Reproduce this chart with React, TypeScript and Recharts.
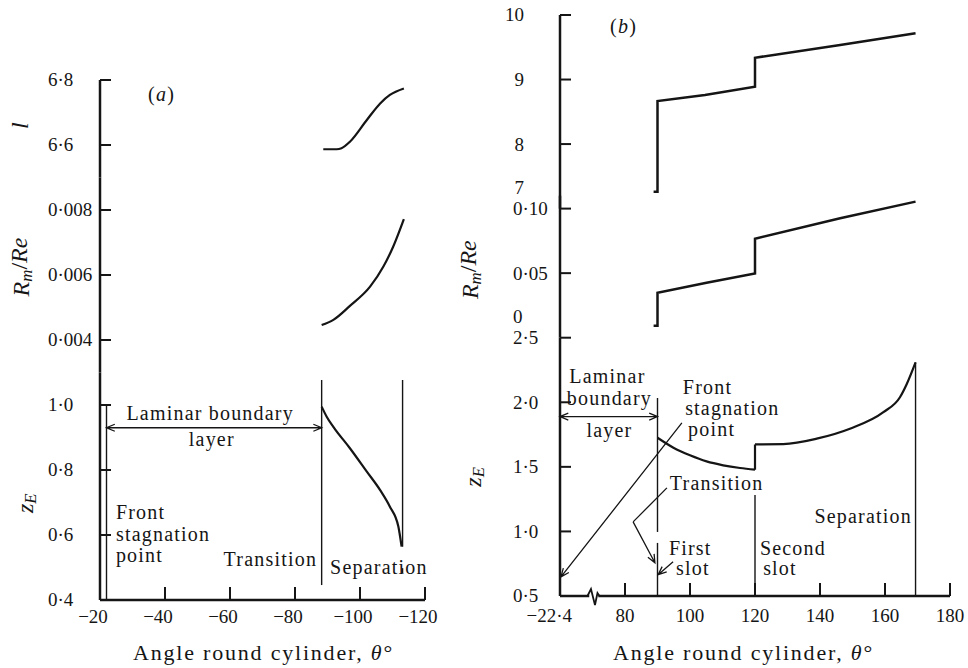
import React from 'react'
import { LineChart, Line, XAxis, YAxis, ReferenceLine, ReferenceDot } from 'recharts'

const W = 968
const H = 668
const INK = '#151515'
const FONT = '"Liberation Serif", "Times New Roman", Times, serif'

// ---------- (a) no suction: angles read negative round the cylinder ----------
const aThetaL = [-88.7, -92.8, -94.3, -96.9, -102.1, -106.2, -109.2, -113.5]
const aL = [6.587, 6.587, 6.59, 6.61, 6.677, 6.728, 6.754, 6.774]
const aThetaRm = [-88.2, -91.8, -96.9, -103.1, -107.2, -110.2, -113.5]
const aRm = [0.00446, 0.00462, 0.00505, 0.00564, 0.00626, 0.00687, 0.00772]
const aThetaZ = [-88.2, -89.75, -91.8, -96.9, -102.1, -106.2, -109.2, -111.8, -112.8]
const aZ = [0.995, 0.964, 0.933, 0.867, 0.795, 0.738, 0.687, 0.626, 0.564]

const aStagnation = -22
const aTransition = -88.2
const aSeparation = -113.1

const aTicksX = [-20, -40, -60, -80, -100, -120]
const aTicksL = [6.6, 6.8]
const aTicksRm = [0.004, 0.006, 0.008]
const aTicksZ = [0.4, 0.6, 0.8, 1.0]

// ---------- (b) two suction slots ----------
const bThetaL = [88.8, 90, 90, 104.6, 120, 120, 146.2, 169.4]
const bL = [7.26, 7.26, 8.667, 8.76, 8.889, 9.338, 9.535, 9.716]
const bThetaRm = [88.8, 90, 90, 105.1, 120, 120, 146.2, 169.4]
const bRm = [0.0092, 0.0092, 0.0348, 0.0426, 0.0498, 0.0767, 0.0925, 0.1054]
const bThetaZ1 = [90, 94.9, 100, 105.1, 110.2, 115.4, 120]
const bZ1 = [1.725, 1.648, 1.589, 1.542, 1.512, 1.491, 1.478]
const bThetaZ2 = [120, 128.7, 139, 149.2, 159.5, 164.6, 166.7, 169.4]
const bZ2 = [1.674, 1.676, 1.718, 1.795, 1.923, 2.039, 2.142, 2.309]

// axis is broken: the front stagnation point (-22.4 deg) sits at its left end
const bAxisStart = 60
const bAxisStartLabel = '−22·4'
const bBreakAt = 70.3
const bFirstSlot = 90
const bSecondSlot = 120
const bSeparation = 169.4

const bTicksX = [60, 80, 100, 120, 140, 160, 180]
const bTicksL = [7, 8, 9, 10]
const bTicksRm = [0, 0.05, 0.1]
const bTicksZ = [0.5, 1.0, 1.5, 2.0, 2.5]

const zip = (xs: number[], ys: number[]) => xs.map((t, i) => ({ t, v: ys[i] }))
const num = (digits: number) => (v: number) =>
  (v < 0 ? '−' : '') + Math.abs(v).toFixed(digits).replace('.', '·')

const textStyle = { fontFamily: FONT, fill: INK }

// y ticks point into the plot; "raised" values only get a label lifted above the band joint
type YTickCfg = { fmt: (v: number) => string; dx: number; anchor: 'start' | 'end'; raised?: number[] }
const yTick = (cfg: YTickCfg) => (p: any) => {
  const v = p.payload.value
  const raised = cfg.raised?.includes(v)
  return (
    <g>
      {!raised && <line x1={p.x} y1={p.y} x2={p.x + 11} y2={p.y} stroke={INK} strokeWidth={2} />}
      <text x={p.x + cfg.dx} y={raised ? p.y - 21 : p.y} dy="0.34em" textAnchor={cfg.anchor} fontSize={19} {...textStyle}>
        {cfg.fmt(v)}
      </text>
    </g>
  )
}

type XTickCfg = { fmt: (v: number) => string; dx: number; dy: number; noMark: number[]; endAt?: number }
const xTick = (cfg: XTickCfg) => (p: any) => {
  const v = p.payload.value
  const atEnd = cfg.endAt === v
  return (
    <g>
      {!cfg.noMark.includes(v) && <line x1={p.x} y1={p.y} x2={p.x} y2={p.y - 13} stroke={INK} strokeWidth={2} />}
      <text x={atEnd ? p.x + 12 : p.x + cfg.dx} y={p.y + cfg.dy} textAnchor={atEnd ? 'end' : 'middle'} fontSize={19} {...textStyle}>
        {cfg.fmt(v)}
      </text>
    </g>
  )
}

const yTitle = (content: React.ReactNode, dx: number, dy: number) => (p: any) => {
  const vb = p.viewBox ?? { x: 0, y: 0, width: 0, height: 0 }
  const cx = vb.x + dx
  const cy = vb.y + vb.height / 2 + dy
  return (
    <text x={cx} y={cy} transform={`rotate(-90 ${cx} ${cy})`} textAnchor="middle" dominantBaseline="central" fontSize={24} {...textStyle}>
      {content}
    </text>
  )
}

const xTitle = (dx: number, dy: number) => (p: any) => {
  const vb = p.viewBox ?? { x: 0, y: 0, width: 0, height: 0 }
  return (
    <text x={vb.x + vb.width / 2 + dx} y={vb.y + dy} textAnchor="middle" fontSize={22} letterSpacing={1.8} {...textStyle}>
      Angle round cylinder, <tspan fontStyle="italic">θ</tspan>°
    </text>
  )
}

const rmTitle = (
  <>
    <tspan fontStyle="italic">R</tspan>
    <tspan fontStyle="italic" fontSize="0.7em" dy="0.3em">m</tspan>
    <tspan dy="-0.3em">/</tspan>
    <tspan fontStyle="italic">Re</tspan>
  </>
)
const zTitle = (
  <>
    <tspan fontStyle="italic">z</tspan>
    <tspan fontStyle="italic" fontSize="0.7em" dy="0.3em">E</tspan>
  </>
)

const arrowShape = (heads: ('start' | 'end')[]) => (p: any) => {
  const { x1, y1, x2, y2 } = p
  const ang = Math.atan2(y2 - y1, x2 - x1)
  const head = (x: number, y: number, a: number) => {
    const L = 9
    const w = 0.4
    return `M${x - L * Math.cos(a - w)},${y - L * Math.sin(a - w)} L${x},${y} L${x - L * Math.cos(a + w)},${y - L * Math.sin(a + w)}`
  }
  let d = `M${x1},${y1} L${x2},${y2}`
  if (heads.includes('end')) d += ' ' + head(x2, y2, ang)
  if (heads.includes('start')) d += ' ' + head(x1, y1, ang + Math.PI)
  return <path d={d} fill="none" stroke={INK} strokeWidth={1.3} />
}

const seg = (key: string, x1: number, y1: number, x2: number, y2: number, width = 1.4) => (
  <ReferenceLine key={key} segment={[{ x: x1, y: y1 }, { x: x2, y: y2 }]} stroke={INK} strokeWidth={width} ifOverflow="visible" />
)
const arrow = (key: string, x1: number, y1: number, x2: number, y2: number, heads: ('start' | 'end')[]) => (
  <ReferenceLine key={key} segment={[{ x: x1, y: y1 }, { x: x2, y: y2 }]} shape={arrowShape(heads)} ifOverflow="visible" />
)
const note = (key: string, x: number, y: number, content: React.ReactNode, anchor: 'start' | 'middle' | 'end' = 'start') => (
  <ReferenceDot
    key={key}
    x={x}
    y={y}
    r={0}
    ifOverflow="visible"
    shape={(p: any) => (
      <text x={p.cx} y={p.cy} textAnchor={anchor} fontSize={20} letterSpacing={1.2} {...textStyle}>
        {content}
      </text>
    )}
  />
)

const breakMark = (p: any) => {
  const { cx, cy } = p
  return (
    <path
      d={`M${cx - 6},${cy} L${cx - 2.5},${cy - 7} L${cx + 1.5},${cy + 9} L${cx + 4},${cy - 3} L${cx + 6},${cy}`}
      fill="none"
      stroke={INK}
      strokeWidth={1.8}
    />
  )
}

const axisLine = { stroke: INK, strokeWidth: 2.5 }
const curve = { stroke: INK, strokeWidth: 2.2, dot: false, isAnimationActive: false } as const

const layer: React.CSSProperties = { position: 'absolute', left: 0, top: 0 }

// panel (a) bands: l 80-177.5, Rm/Re 177.5-372.5, zE 372.5-600; axis x=100, plot right at 425
function PanelA() {
  const m = { left: 0, right: W - 425 }
  const xHidden = <XAxis type="number" dataKey="t" domain={[-120, -20]} reversed hide allowDataOverflow />
  const yBase = { type: 'number' as const, width: 100, tickSize: 0, tickMargin: 0, tickLine: false, axisLine, allowDataOverflow: true, interval: 0 as const }
  return (
    <>
      <div style={layer}>
        <LineChart width={W} height={H} margin={{ ...m, top: 80, bottom: H - 177.5 }}>
          {xHidden}
          <YAxis {...yBase} domain={[6.5, 6.8]} ticks={aTicksL} tick={yTick({ fmt: num(1), dx: -52, anchor: 'start' })}
            label={yTitle(<tspan fontStyle="italic">l</tspan>, 20, -3)} />
          <Line data={zip(aThetaL, aL)} dataKey="v" type="monotone" {...curve} />
          {note('tag', -34.8, 6.735, <>(<tspan fontStyle="italic">a</tspan>)</>)}
        </LineChart>
      </div>
      <div style={layer}>
        <LineChart width={W} height={H} margin={{ ...m, top: 177.5, bottom: H - 372.5 }}>
          {xHidden}
          <YAxis {...yBase} domain={[0.003, 0.009]} ticks={aTicksRm} tick={yTick({ fmt: num(3), dx: -52, anchor: 'start' })}
            label={yTitle(rmTitle, 21, -8)} />
          <Line data={zip(aThetaRm, aRm)} dataKey="v" type="monotone" {...curve} />
        </LineChart>
      </div>
      <div style={layer}>
        <LineChart width={W} height={H} margin={{ ...m, top: 372.5, bottom: 0 }}>
          <XAxis type="number" dataKey="t" domain={[-120, -20]} reversed allowDataOverflow ticks={aTicksX} interval={0}
            height={68} tickSize={0} tickMargin={0} tickLine={false} axisLine={axisLine}
            tick={xTick({ fmt: num(0), dx: -7, dy: 23, noMark: [-20] })} label={xTitle(1, 60)} />
          <YAxis {...yBase} domain={[0.4, 1.1]} ticks={aTicksZ} tick={yTick({ fmt: num(1), dx: -52, anchor: 'start' })}
            label={yTitle(zTitle, 25, 17)} />
          <Line data={zip(aThetaZ, aZ)} dataKey="v" type="monotone" {...curve} />
          {seg('stag', aStagnation, 1.0, aStagnation, 0.4)}
          {seg('tr', aTransition, 1.077, aTransition, 0.446)}
          {seg('sep', aSeparation, 1.077, aSeparation, 0.564)}
          {seg('sep2', aSeparation, 0.498, aSeparation, 0.483)}
          {arrow('lam', aStagnation, 0.93, aTransition, 0.93, ['start', 'end'])}
          {note('lam1', -53.9, 0.954, 'Laminar boundary', 'middle')}
          {note('lam2', -54.4, 0.874, 'layer', 'middle')}
          {note('fr1', -24.9, 0.648, 'Front')}
          {note('fr2', -24.9, 0.583, 'stagnation')}
          {note('fr3', -24.9, 0.518, 'point')}
          {note('trn', -86.8, 0.505, 'Transition', 'end')}
          {note('sepn', -90.8, 0.48, 'Separation')}
        </LineChart>
      </div>
    </>
  )
}

// panel (b) bands: l 15-208.6, Rm/Re 208.6-337.7 (room above for the curve's end), zE 337.7-596
function PanelB() {
  const m = { left: 480, right: W - 950 }
  const xHidden = <XAxis type="number" dataKey="t" domain={[bAxisStart, 180]} hide allowDataOverflow />
  const yBase = { type: 'number' as const, width: 80, tickSize: 0, tickMargin: 0, tickLine: false, axisLine, allowDataOverflow: true, interval: 0 as const }
  const xFmt = (v: number) => (v === bAxisStart ? bAxisStartLabel : String(v))
  const rmFmt = (v: number) => (v === 0 ? '0' : num(2)(v))
  const zEnd1 = bZ1[bZ1.length - 1]
  const zStart2 = bZ2[0]
  return (
    <>
      <div style={layer}>
        <LineChart width={W} height={H} margin={{ ...m, top: 15, bottom: H - 208.6 }}>
          {xHidden}
          <YAxis {...yBase} domain={[7, 10]} ticks={bTicksL} tick={yTick({ fmt: num(0), dx: -36, anchor: 'end', raised: [7] })} />
          <Line data={zip(bThetaL, bL)} dataKey="v" type="linear" {...curve} strokeWidth={2.5} />
          {note('tag', 75.4, 9.72, <>(<tspan fontStyle="italic">b</tspan>)</>)}
        </LineChart>
      </div>
      <div style={layer}>
        <LineChart width={W} height={H} margin={{ ...m, top: 208.6 - 12.91, bottom: H - 337.7 }}>
          {xHidden}
          <YAxis {...yBase} domain={[0, 0.11]} ticks={bTicksRm} tick={yTick({ fmt: rmFmt, dx: -47, anchor: 'start', raised: [0] })}
            label={yTitle(rmTitle, -10, 3)} />
          <Line data={zip(bThetaRm, bRm)} dataKey="v" type="linear" {...curve} strokeWidth={2.5} />
        </LineChart>
      </div>
      <div style={layer}>
        <LineChart width={W} height={H} margin={{ ...m, top: 337.7, bottom: 0 }}>
          <XAxis type="number" dataKey="t" domain={[bAxisStart, 180]} allowDataOverflow ticks={bTicksX} interval={0}
            height={72} tickSize={0} tickMargin={0} tickLine={false} axisLine={false}
            tick={xTick({ fmt: xFmt, dx: 0, dy: 26, noMark: [bAxisStart], endAt: bAxisStart })} label={xTitle(-11.5, 64)} />
          <YAxis {...yBase} domain={[0.5, 2.5]} ticks={bTicksZ} tick={yTick({ fmt: num(1), dx: -47, anchor: 'start' })}
            label={yTitle(zTitle, -7, 10)} />
          {seg('ax1', bAxisStart, 0.5, bBreakAt - 1.3, 0.5, 2.5)}
          {seg('ax2', bBreakAt + 1.5, 0.5, 180, 0.5, 2.5)}
          <ReferenceDot x={bBreakAt} y={0.5} r={0} ifOverflow="visible" shape={breakMark} />
          <Line data={zip(bThetaZ1, bZ1)} dataKey="v" type="monotone" {...curve} />
          <Line data={[{ t: bSecondSlot, v: zEnd1 }, { t: bSecondSlot, v: zStart2 }]} dataKey="v" type="linear" {...curve} />
          <Line data={zip(bThetaZ2, bZ2)} dataKey="v" type="monotone" {...curve} />
          {seg('s1a', bFirstSlot, 2.033, bFirstSlot, 0.996)}
          {seg('s1b', bFirstSlot, 0.911, bFirstSlot, 0.5)}
          {seg('s2', bSecondSlot, 1.283, bSecondSlot, 0.5)}
          {seg('sep', bSeparation, 2.309, bSeparation, 0.5)}
          {arrow('lam', bAxisStart, 1.889, bFirstSlot, 1.889, ['start', 'end'])}
          {arrow('stag', 97.5, 1.84, bAxisStart + 0.3, 0.648, ['end'])}
          {arrow('tr1', 92.9, 1.337, 82.5, 1.074, [])}
          {arrow('tr2', 82.5, 1.074, 89.2, 0.757, ['end'])}
          {arrow('slot1', 94.8, 0.765, 90.2, 0.665, ['end'])}
          {note('lam1', 74.6, 2.146, 'Laminar', 'middle')}
          {note('lam2', 75.2, 1.98, 'boundary', 'middle')}
          {note('lam3', 75.2, 1.731, 'layer', 'middle')}
          {note('fr1', 97.8, 2.064, 'Front')}
          {note('fr2', 98.5, 1.902, 'stagnation')}
          {note('fr3', 99.4, 1.739, 'point')}
          {note('trn', 93.8, 1.321, 'Transition')}
          {note('f1', 93.5, 0.818, 'First')}
          {note('f2', 95.7, 0.663, 'slot')}
          {note('sc1', 121.5, 0.818, 'Second')}
          {note('sc2', 122.5, 0.663, 'slot')}
          {note('sepn', 168.3, 1.066, 'Separation', 'end')}
        </LineChart>
      </div>
    </>
  )
}

export default function App() {
  return (
    <div style={{ position: 'absolute', left: 0, top: 0, width: W, height: H, background: '#fff' }}>
      <PanelA />
      <PanelB />
    </div>
  )
}
